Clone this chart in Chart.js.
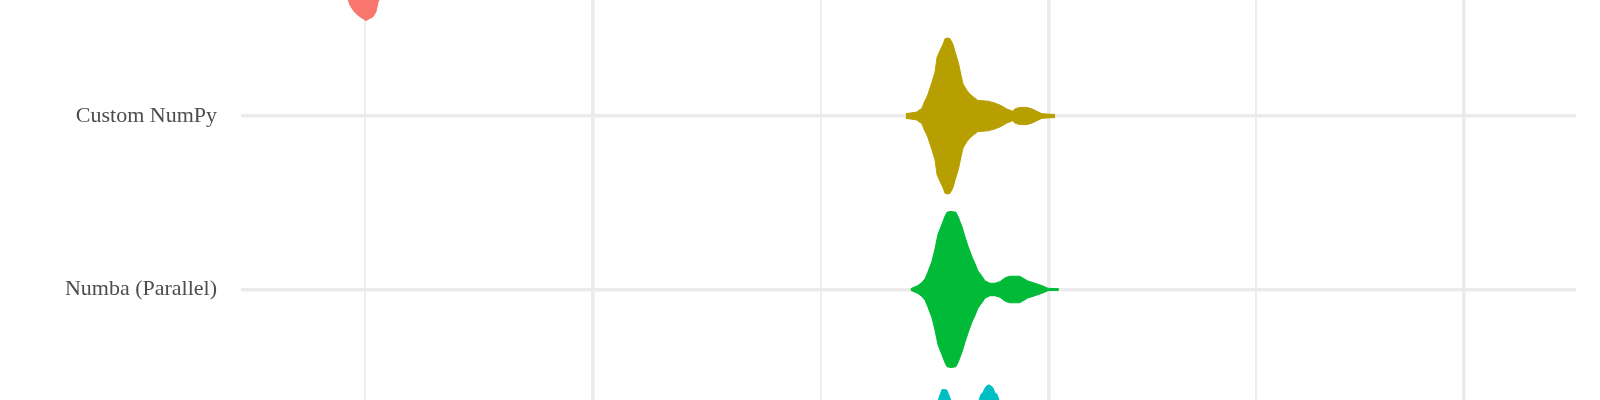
<!DOCTYPE html>
<html>
<head>
<meta charset="utf-8">
<script src="https://cdn.jsdelivr.net/npm/chart.js@4"></script>
<style>
  html, body { margin: 0; padding: 0; background: #fff; }
  #wrap { width: 1600px; height: 400px; }
</style>
</head>
<body>
<div id="wrap"><canvas id="chart"></canvas></div>
<script>
// Categories top to bottom (the first and last are cut off in the picture)
const categories = ['', 'Custom NumPy', 'Numba (Parallel)', ''];
const colors = ['#F8766D', '#B79F00', '#00BA38', '#00BFC4'];

// x breaks of the log axis (major lines thick, minor lines thin)
const xMajorBreaks = [3, 10, 30];
const xMinorBreaks = [1.643, 5.477, 17.32];

// Violin outlines: x value and relative half width (1 = widest point)
const redX = [1.44, 1.50, 1.57, 1.578, 1.59, 1.60, 1.62, 1.646, 1.677, 1.69, 1.70, 1.78, 1.85, 1.89];
const redW = [0.04, 0.25, 0.73, 0.80, 0.86, 0.90, 0.95, 1.0, 0.95, 0.89, 0.76, 0.32, 0.06, 0.01];

const customX = [6.86, 7.06, 7.16, 7.20, 7.27, 7.35, 7.41, 7.45, 7.51, 7.57, 7.61, 7.66, 7.71, 7.77, 7.81, 7.88, 7.94, 7.98,
  8.06, 8.13, 8.21, 8.30, 8.52, 8.66, 8.80, 8.96, 9.10, 9.15, 9.27, 9.45, 9.58, 9.70, 9.83, 9.96, 10.18];
const customW = [0.03, 0.05, 0.10, 0.17, 0.27, 0.43, 0.56, 0.75, 0.84, 0.92, 0.99, 1.0, 0.99, 0.92, 0.83, 0.69, 0.52, 0.41,
  0.33, 0.28, 0.24, 0.20, 0.19, 0.17, 0.14, 0.09, 0.06, 0.09, 0.11, 0.11, 0.09, 0.06, 0.03, 0.025, 0.02];

const parallelX = [6.95, 7.08, 7.16, 7.22, 7.27, 7.35, 7.41, 7.47, 7.55, 7.61, 7.65, 7.73, 7.83, 7.88, 7.96, 8.02, 8.09,
  8.17, 8.24, 8.30, 8.39, 8.46, 8.57, 8.68, 8.80, 8.92, 9.03, 9.27, 9.47, 9.65, 9.83, 9.99, 10.28];
const parallelW = [0.01, 0.05, 0.09, 0.14, 0.22, 0.36, 0.52, 0.71, 0.84, 0.94, 0.99, 1.0, 0.99, 0.93, 0.80, 0.68, 0.55,
  0.42, 0.33, 0.24, 0.17, 0.11, 0.08, 0.08, 0.10, 0.15, 0.17, 0.17, 0.11, 0.08, 0.05, 0.015, 0.01];

const cyanX = [6.94, 7.12, 7.27, 7.37, 7.47, 7.55, 7.61, 7.65, 7.73, 7.88, 8.02, 8.17, 8.37, 8.41, 8.46, 8.50, 8.55, 8.59,
  8.64, 8.68, 8.73, 8.78, 8.92, 9.08, 9.27, 9.53, 9.91, 10.18];
const cyanW = [0.01, 0.08, 0.25, 0.51, 0.80, 0.94, 0.94, 0.93, 0.80, 0.57, 0.48, 0.54, 0.88, 0.90, 0.96, 0.99, 1.0, 0.99,
  0.96, 0.90, 0.88, 0.80, 0.54, 0.28, 0.13, 0.05, 0.025, 0.01];

const violins = [
  { x: redX, w: redW },
  { x: customX, w: customW },
  { x: parallelX, w: parallelW },
  { x: cyanX, w: cyanW }
];

const halfWidth = 0.45; // violin width 0.9 of a category step

// Each violin = upper outline + lower outline filled to the upper one
const datasets = [];
violins.forEach((v, i) => {
  const upper = v.x.map((x, k) => ({ x: x, y: i - v.w[k] * halfWidth }));
  const lower = v.x.map((x, k) => ({ x: x, y: i + v.w[k] * halfWidth }));
  const common = {
    borderColor: colors[i],
    backgroundColor: colors[i],
    borderWidth: 1,
    pointRadius: 0,
    tension: 0
  };
  datasets.push(Object.assign({ data: upper, fill: false }, common));
  datasets.push(Object.assign({ data: lower, fill: '-1' }, common));
});

const gridColor = '#EBEBEB';

new Chart(document.getElementById('chart'), {
  type: 'line',
  data: { datasets: datasets },
  options: {
    animation: false,
    responsive: true,
    maintainAspectRatio: false,
    devicePixelRatio: 1,
    layout: { autoPadding: false, padding: { left: 0, right: 24, top: 0, bottom: 0 } },
    plugins: { legend: { display: false }, tooltip: { enabled: false } },
    scales: {
      x: {
        type: 'logarithmic',
        min: 1.183,
        max: 40.35,
        border: { display: false },
        grid: {
          color: gridColor,
          drawTicks: false,
          lineWidth: ctx => (ctx.tick && xMajorBreaks.includes(ctx.tick.value)) ? 3.5 : 1.8
        },
        ticks: { display: false },
        afterBuildTicks: axis => {
          axis.ticks = xMinorBreaks.concat(xMajorBreaks).sort((a, b) => a - b).map(v => ({ value: v }));
        },
        afterFit: scale => {
          scale.height = 0;
          scale.paddingLeft = 0;
          scale.paddingRight = 0;
        }
      },
      y: {
        type: 'linear',
        reverse: true,
        min: 0.3314,
        max: 2.637,
        border: { display: false },
        grid: { color: gridColor, lineWidth: 3.5, drawTicks: false },
        ticks: {
          padding: 24,
          color: '#4D4D4D',
          font: { family: '"Liberation Serif", "DejaVu Serif", serif', size: 22 },
          callback: v => categories[v] || ''
        },
        afterBuildTicks: axis => {
          axis.ticks = categories.map((c, i) => i).filter(i => i >= axis.min && i <= axis.max).map(v => ({ value: v }));
        },
        afterFit: scale => {
          scale.width = 241;
          scale.paddingTop = 0;
          scale.paddingBottom = 0;
        }
      }
    }
  }
});
</script>
</body>
</html>
